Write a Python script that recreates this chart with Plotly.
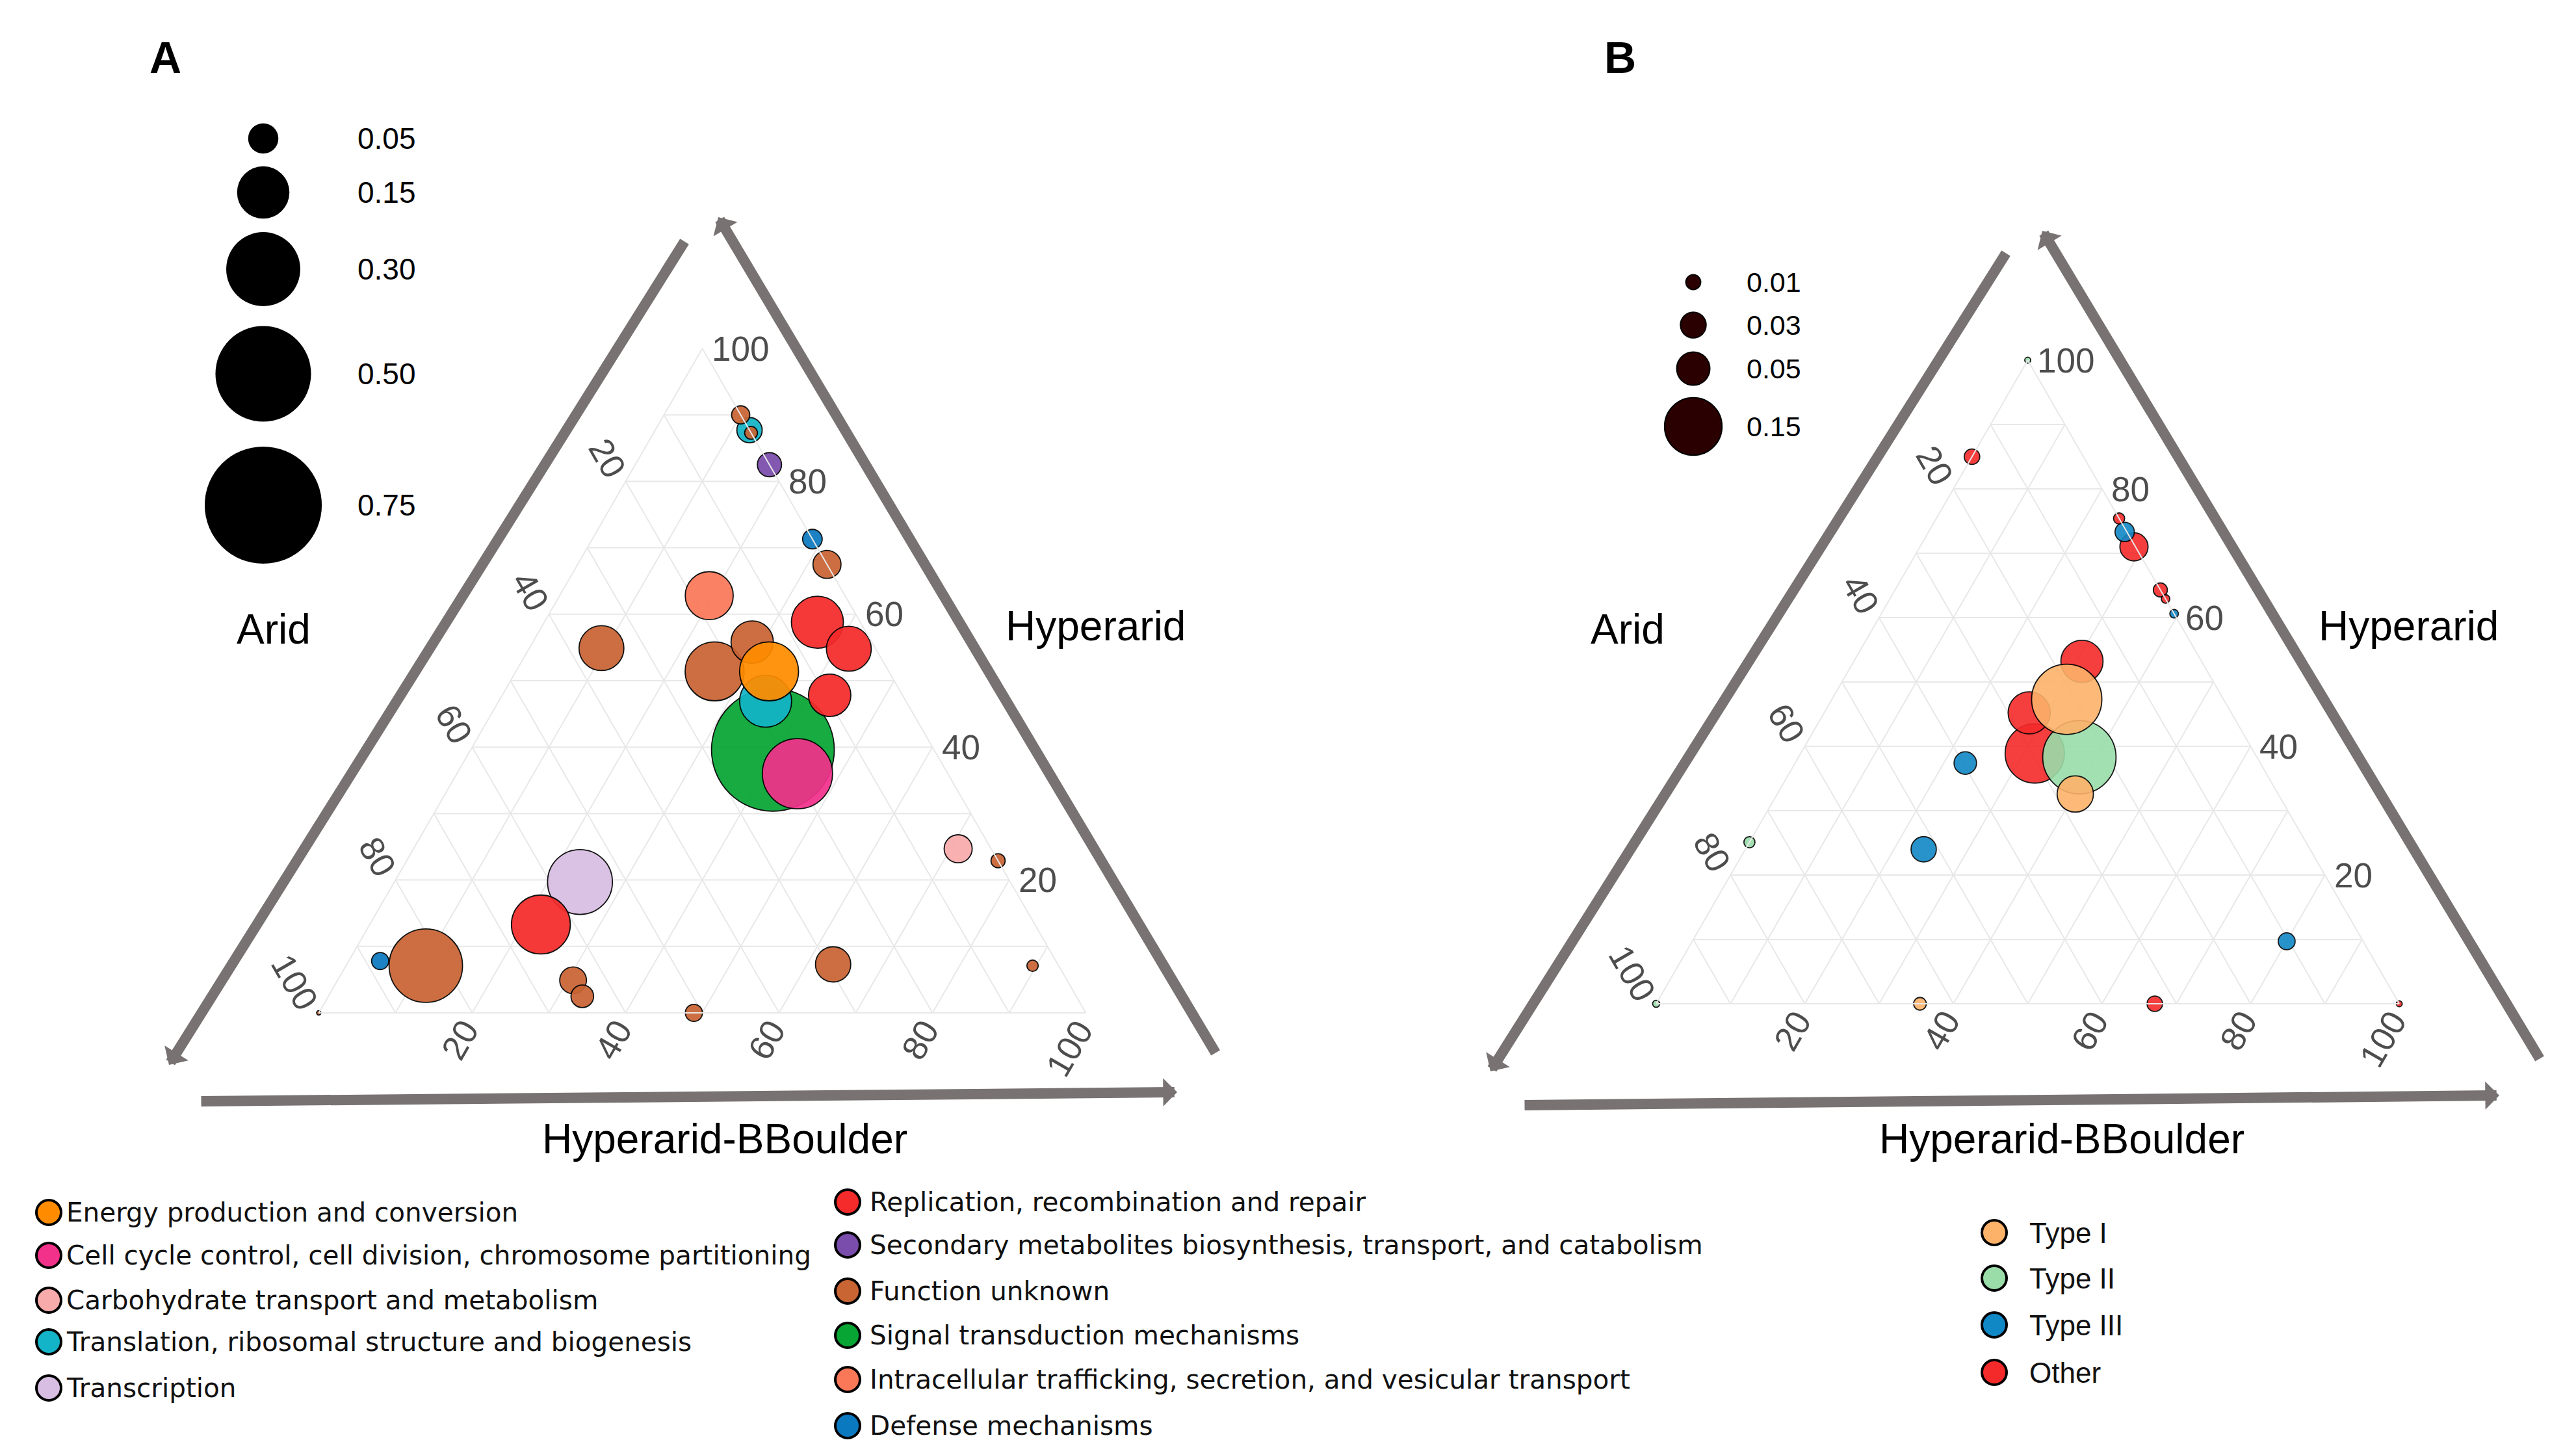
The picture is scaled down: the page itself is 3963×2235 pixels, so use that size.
import math
import plotly.graph_objects as go

W, H = 3963, 2235

# ---------------- Panel A : COG functional categories ----------------
cog_codes = ["C", "D", "G", "J", "K", "L", "Q", "S", "T", "U", "V"]
cog_names = [
    "Energy production and conversion",
    "Cell cycle control, cell division, chromosome partitioning",
    "Carbohydrate transport and metabolism",
    "Translation, ribosomal structure and biogenesis",
    "Transcription",
    "Replication, recombination and repair",
    "Secondary metabolites biosynthesis, transport, and catabolism",
    "Function unknown",
    "Signal transduction mechanisms",
    "Intracellular trafficking, secretion, and vesicular transport",
    "Defense mechanisms",
]
cog_colors = ["#FF8C00", "#F2318B", "#F8ABAB", "#13B4C8", "#D8BEE2",
              "#F52A2A", "#7A4CAB", "#C96433", "#06A534", "#FA7858", "#0B79BF"]

# points (drawing order): category, Hyperarid, Arid, Hyperarid-BBoulder, relative abundance
a_cat = ["T", "S", "K", "L", "S", "S", "J", "C", "D", "U", "L", "L", "S", "L", "S",
         "S", "G", "S", "S", "J", "Q", "V", "S", "V", "S", "S", "S", "S", "S"]
a_hyperarid = [39.6, 7.1, 19.7, 13.3, 51.4, 55.8, 46.9, 51.4, 36.0, 62.8, 58.8, 54.8, 54.9, 47.8, 7.3,
               67.5, 24.7, 4.9, 2.5, 87.7, 82.5, 71.3, 90.0, 7.8, 0.0, 22.9, 87.3, 7.1, 0.0]
a_arid = [21.0, 82.5, 56.1, 64.4, 22.7, 15.6, 18.3, 15.6, 19.6, 17.7, 5.6, 3.5, 35.7, 9.5, 29.3,
          0.0, 4.3, 64.4, 64.4, 0.0, 0.0, 0.0, 0.0, 88.1, 51.1, 0.0, 0.0, 3.4, 100.0]
a_bboulder = [39.4, 10.4, 24.2, 22.3, 25.9, 28.6, 34.8, 33.0, 44.4, 19.5, 35.6, 41.7, 9.4, 42.7, 63.4,
              32.5, 71.0, 30.7, 33.1, 12.3, 17.5, 28.7, 10.0, 4.1, 48.9, 77.1, 12.7, 89.5, 0.0]
a_abund = [0.825, 0.295, 0.23, 0.19, 0.19, 0.098, 0.148, 0.19, 0.27, 0.126, 0.148, 0.11, 0.11, 0.098, 0.068,
           0.043, 0.043, 0.039, 0.028, 0.035, 0.032, 0.021, 0.018, 0.016, 0.016, 0.011, 0.009, 0.007, 0.001]

size_key_a = [0.05, 0.15, 0.30, 0.50, 0.75]
size_key_a_labels = ["0.05", "0.15", "0.30", "0.50", "0.75"]

# ---------------- Panel B : CRISPR-Cas types ----------------
cas_types = ["Type I", "Type II", "Type III", "Other"]
cas_colors = ["#FDB26A", "#9ADDA9", "#1188C6", "#F42A2A"]
b_cat = ["Other", "Other", "Other", "Type II", "Type I", "Type I", "Type III", "Type III", "Other", "Type III",
         "Other", "Type III", "Other", "Other", "Other", "Type I", "Type II", "Other", "Type III", "Type II",
         "Type II", "Other"]
b_hyperarid = [38.9, 45.2, 53.2, 38.3, 47.3, 32.6, 24.0, 37.4, 71.0, 73.3,
               85.0, 9.7, 0.0, 75.4, 64.3, 0.0, 25.1, 62.9, 60.6, 0.0, 100.0, 0.0]
b_arid = [29.6, 27.2, 16.1, 23.9, 21.1, 27.3, 52.0, 39.7, 0.2, 0.3,
          15.0, 10.3, 32.9, 0.0, 0.0, 64.5, 74.9, 0.0, 0.0, 100.0, 0.0, 0.0]
b_bboulder = [31.5, 27.6, 30.7, 37.8, 31.6, 40.1, 24.0, 22.9, 28.8, 26.4,
              0.0, 80.0, 67.1, 24.6, 35.7, 35.5, 0.0, 37.1, 39.4, 0.0, 0.0, 100.0]
b_abund = [0.16, 0.081, 0.081, 0.245, 0.225, 0.06, 0.029, 0.023, 0.036, 0.017,
           0.011, 0.013, 0.011, 0.0056, 0.009, 0.0073, 0.0056, 0.0033, 0.0033, 0.0023, 0.0016, 0.0016]

size_key_b = [0.01, 0.03, 0.05, 0.15]
size_key_b_labels = ["0.01", "0.03", "0.05", "0.15"]

tick_values = [20, 40, 60, 80, 100]
axis_names = ["Hyperarid", "Arid", "Hyperarid-BBoulder"]

# ---------------- layout constants (pixels) ----------------
TRI_A = dict(cx=1072.5, top=528.0, h=1022.0)
TRI_B = dict(cx=3111.5, top=546.0, h=990.0)
SIZEREF_A = 2.0 / 208.0 ** 2
SIZEREF_B = 2.0 / 228.0 ** 2
GRID = "#E8E8E8"
ARROW = "#787272"
TICK = "#4D4D4D"
SANS = "Liberation Sans, Arial, sans-serif"
LEG_FONT = "DejaVu Sans, Verdana, sans-serif"


def tern_px(tri, a, b, c):
    s = a + b + c
    a, b, c = a / s, b / s, c / s
    h = tri["h"]
    w = 2 * h / math.sqrt(3)
    x_bl = tri["cx"] - w / 2
    base = tri["top"] + h
    return x_bl + (c + a / 2) * w, base - a * h


def tern_domain(tri):
    h = tri["h"]
    w = 2 * h / math.sqrt(3)
    x0 = (tri["cx"] - w / 2 - 30) / W
    x1 = (tri["cx"] + w / 2 + 30) / W
    y0 = 1 - (tri["top"] + h) / H
    y1 = 1 - tri["top"] / H
    return [x0, x1], [y0, y1]


def tern_axis():
    return dict(min=0, tick0=0, dtick=10, showticklabels=False, ticks="",
                showgrid=True, gridcolor=GRID, gridwidth=2,
                showline=True, linecolor=GRID, linewidth=2,
                title=dict(text=""))


fig = go.Figure()

# ---- ternary points ----
cog_color_map = dict(zip(cog_codes, cog_colors))
fig.add_trace(go.Scatterternary(
    a=a_hyperarid, b=a_arid, c=a_bboulder, subplot="ternary",
    mode="markers", cliponaxis=False, showlegend=False,
    marker=dict(size=a_abund, sizemode="area", sizeref=SIZEREF_A,
                color=[cog_color_map[k] for k in a_cat], opacity=0.93,
                line=dict(color="black", width=1.8)),
))

cas_color_map = dict(zip(cas_types, cas_colors))
fig.add_trace(go.Scatterternary(
    a=b_hyperarid, b=b_arid, c=b_bboulder, subplot="ternary2",
    mode="markers", cliponaxis=False, showlegend=False,
    marker=dict(size=b_abund, sizemode="area", sizeref=SIZEREF_B,
                color=[cas_color_map[k] for k in b_cat], opacity=0.9,
                line=dict(color="black", width=1.8)),
))

# ---- size keys (overlay pixel axes) ----
KEY_A_X, KEY_A_Y, KEY_A_LX = 397, [205, 288, 406, 567, 769], 540
KEY_B_X, KEY_B_Y, KEY_B_LX = 2597, [426, 492, 559, 648], 2677
fig.add_trace(go.Scatter(
    x=[KEY_A_X] * len(size_key_a), y=KEY_A_Y, mode="markers", showlegend=False,
    marker=dict(size=size_key_a, sizemode="area", sizeref=SIZEREF_A, color="black",
                opacity=1, line=dict(width=0)),
))
fig.add_trace(go.Scatter(
    x=[KEY_B_X] * len(size_key_b), y=KEY_B_Y, mode="markers", showlegend=False,
    marker=dict(size=size_key_b, sizemode="area", sizeref=SIZEREF_B, color="#2B0000",
                opacity=1, line=dict(width=2, color="black")),
))

# ---- colour keys ----
LEG_A_LEFT = dict(mx=67, tx=92, y=[1857, 1923, 1992, 2056, 2127])
LEG_A_RIGHT = dict(mx=1296, tx=1328, y=[1841, 1907, 1978, 2046, 2114, 2185])
LEG_B = dict(mx=3060, tx=3112, y=[1888, 1958, 2030, 2103])

left_n = len(LEG_A_LEFT["y"])
fig.add_trace(go.Scatter(
    x=[LEG_A_LEFT["mx"]] * left_n + [LEG_A_RIGHT["mx"]] * (len(cog_codes) - left_n),
    y=LEG_A_LEFT["y"] + LEG_A_RIGHT["y"], mode="markers", showlegend=False,
    marker=dict(size=38, color=cog_colors, opacity=1, line=dict(color="black", width=4)),
))
fig.add_trace(go.Scatter(
    x=[LEG_B["mx"]] * len(cas_types), y=LEG_B["y"], mode="markers", showlegend=False,
    marker=dict(size=38, color=cas_colors, opacity=1, line=dict(color="black", width=4)),
))

ann = []


def text(x, y, s, size, color="black", family=SANS, xanchor="center", yanchor="middle", angle=0):
    ann.append(dict(x=x, y=y, xref="x", yref="y", text=s, showarrow=False,
                    xanchor=xanchor, yanchor=yanchor, textangle=angle,
                    font=dict(size=size, color=color, family=family)))


for i, name in enumerate(cog_names):
    if i < left_n:
        text(LEG_A_LEFT["tx"], LEG_A_LEFT["y"][i], name, 40.5, "#111111", LEG_FONT, "left")
    else:
        text(LEG_A_RIGHT["tx"], LEG_A_RIGHT["y"][i - left_n], name, 40.5, "#111111", LEG_FONT, "left")
for i, name in enumerate(cas_types):
    text(LEG_B["tx"], LEG_B["y"][i], name, 44, "#111111", SANS, "left")

for y, lab in zip(KEY_A_Y, size_key_a_labels):
    text(KEY_A_LX, y, lab, 46, "black", SANS, "left")
for y, lab in zip(KEY_B_Y, size_key_b_labels):
    text(KEY_B_LX, y, lab, 43, "black", SANS, "left")

# ---- panel letters ----
text(246, 80, "<b>A</b>", 68)
text(2484, 80, "<b>B</b>", 68)

# ---- tick labels & axis titles ----
TFS = 53
LEFT_DIR = (-0.62, -0.785)
BOTTOM_DIR = (-0.42, 0.91)


def tick_labels(tri):
    for v in tick_values:
        s = str(v)
        d = 16 + len(s) * 0.278 * TFS
        # Hyperarid (top vertex): right edge, horizontal gridlines
        x, y = tern_px(tri, v, 0, 100 - v)
        text(x + 12, y, s, TFS, TICK, SANS, "left")
        # Arid (bottom-left vertex): left edge
        x, y = tern_px(tri, 100 - v, v, 0)
        text(x + d * LEFT_DIR[0], y + d * LEFT_DIR[1], s, TFS, TICK, SANS, angle=60)
        # Hyperarid-BBoulder (bottom-right vertex): bottom edge
        x, y = tern_px(tri, 0, 100 - v, v)
        text(x + d * BOTTOM_DIR[0], y + d * BOTTOM_DIR[1], s, TFS, TICK, SANS, angle=-60)


tick_labels(TRI_A)
tick_labels(TRI_B)

TITLE_POS_A = {"Hyperarid": (1677, 955), "Arid": (413, 960), "Hyperarid-BBoulder": (1107, 1744)}
TITLE_POS_B = {"Hyperarid": (3697, 955), "Arid": (2496, 960), "Hyperarid-BBoulder": (3164, 1744)}
for name in axis_names:
    text(*TITLE_POS_A[name], name, 64)
    text(*TITLE_POS_B[name], name, 64)

# ---- direction arrows (tail -> tip) ----
ARROWS = [
    ((1046, 362), (252, 1630)), ((1863, 1613), (1097, 326)), ((300, 1686), (1803, 1672)),
    ((3079, 380), (2285, 1640)), ((3900, 1622), (3134, 347)), ((2336, 1692), (3837, 1677)),
]
for (tx_, ty_), (hx, hy) in ARROWS:
    ann.append(dict(x=hx, y=hy, ax=tx_, ay=ty_, xref="x", yref="y", axref="x", ayref="y",
                    text="", showarrow=True, arrowhead=1, arrowwidth=16, arrowsize=0.45,
                    arrowcolor=ARROW, standoff=0, startstandoff=0))

dom_ax, dom_ay = tern_domain(TRI_A)
dom_bx, dom_by = tern_domain(TRI_B)

fig.update_layout(
    width=W, height=H, margin=dict(l=0, r=0, t=0, b=0),
    paper_bgcolor="white", plot_bgcolor="rgba(0,0,0,0)",
    showlegend=False,
    xaxis=dict(range=[0, W], domain=[0, 1], visible=False, fixedrange=True),
    yaxis=dict(range=[H, 0], domain=[0, 1], visible=False, fixedrange=True),
    ternary=dict(domain=dict(x=dom_ax, y=dom_ay), sum=100, bgcolor="rgba(0,0,0,0)",
                 aaxis=tern_axis(), baxis=tern_axis(), caxis=tern_axis()),
    ternary2=dict(domain=dict(x=dom_bx, y=dom_by), sum=100, bgcolor="rgba(0,0,0,0)",
                  aaxis=tern_axis(), baxis=tern_axis(), caxis=tern_axis()),
    annotations=ann,
)

fig.write_html("out.html")
